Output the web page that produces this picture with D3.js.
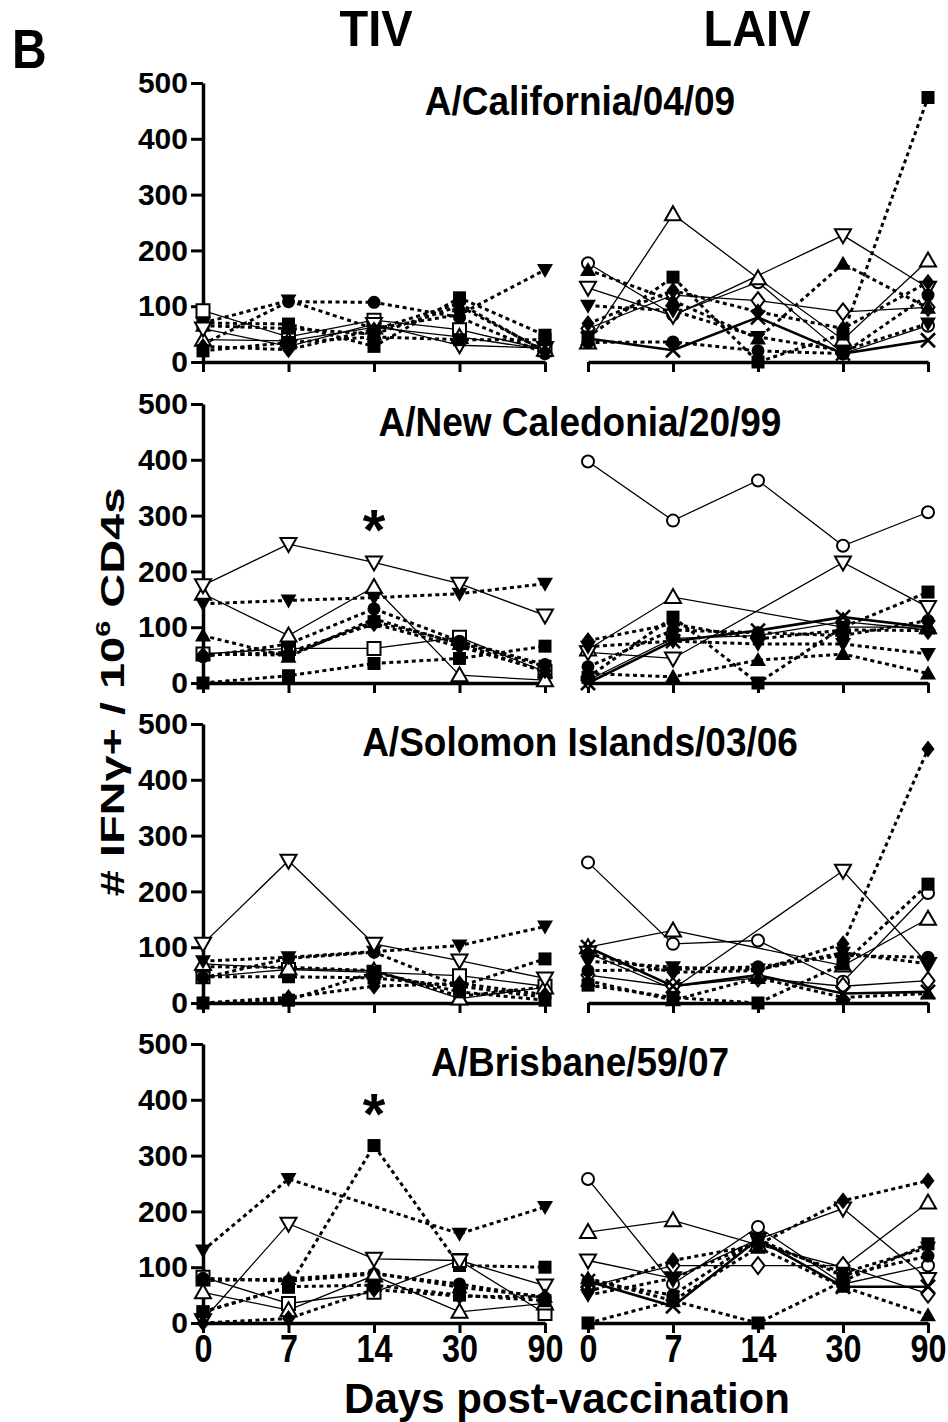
<!DOCTYPE html>
<html><head><meta charset="utf-8">
<script src="https://cdn.jsdelivr.net/npm/d3@7"></script>
<style>
html,body{margin:0;padding:0;background:#fff;}
svg text{font-family:"Liberation Sans",Arial,Helvetica,sans-serif;font-weight:bold;fill:#000;}
</style></head><body>
<svg id="chart" width="948" height="1422"></svg>
<script>
// ---------------- DATA ----------------
const days = ["0","7","14","30","90"];
const groups = ["TIV","LAIV"];
const strains = ["A/California/04/09","A/New Caledonia/20/99","A/Solomon Islands/03/06","A/Brisbane/59/07"];
const yTicks = [0,100,200,300,400,500];
const tivSubjects = ["T1","T2","T3","T4","T5","T6","T7","T8","T9"];
const laivSubjects = ["L1","L2","L3","L4","L5","L6","L7","L8","L9","L10"];

// values per subject (rows follow tivSubjects / laivSubjects order), columns follow days
const tivCalifornia = [
  [70, 68, 28, 115, 48],
  [92, 45, 75, 58, 22],
  [32, 108, 107, 80, 15],
  [65, 60, 50, 100, 20],
  [40, 38, 62, 45, 22],
  [70, 110, 60, 85, 165],
  [60, 28, 68, 30, 25],
  [28, 22, 58, 105, 18],
  [20, 35, 45, 40, 40]
];
const tivNewCaledonia = [
  [52, 50, 110, 72, 30],
  [52, 62, 62, 82, 20],
  [47, 70, 133, 75, 33],
  [85, 47, 115, 70, 20],
  [160, 85, 172, 14, 5],
  [142, 148, 153, 160, 178],
  [175, 249, 216, 178, 121],
  [50, 55, 106, 65, 22],
  [0, 13, 35, 44, 66]
];
const tivSolomon = [
  [47, 47, 45, 30, 79],
  [47, 60, 55, 49, 30],
  [45, 80, 91, 30, 10],
  [65, 64, 58, 12, 29],
  [70, 62, 58, 8, 28],
  [75, 82, 92, 103, 137],
  [106, 255, 106, 76, 44],
  [0, 10, 30, 35, 15],
  [0, 5, 55, 20, 5]
];
const tivBrisbane = [
  [20, 64, 318, 103, 100],
  [82, 35, 55, 112, 17],
  [80, 75, 88, 70, 45],
  [76, 79, 90, 64, 47],
  [55, 23, 85, 20, 35],
  [130, 258, null, 160, 208],
  [5, 178, 115, 112, 67],
  [0, 8, 60, 48, 47],
  [20, 65, 68, 50, 40]
];
const laivCalifornia = [
  [177, 85, 143, 15, 65],
  [35, 265, 150, 40, 182],
  [133, 83, null, 227, 133],
  [60, 120, 110, 90, 98],
  [42, 21, 80, 15, 39],
  [45, 152, 0, 50, 474],
  [35, 36, 20, 15, 120],
  [165, 110, 42, 176, 97],
  [101, 92, 45, 20, 69],
  [69, 128, 90, 60, 143]
];
const laivNewCaledonia = [
  [397, 291, 363, 246, 306],
  [60, 154, null, 100, 100],
  [55, 44, null, 216, 136],
  [5, 80, 85, 110, 95],
  [0, 75, 94, 118, 100],
  [10, 118, 0, 100, 163],
  [29, 95, 90, 85, 112],
  [17, 11, 41, 52, 17],
  [65, 75, 70, 70, 52],
  [76, 106, 79, 95, 94]
];
const laivSolomon = [
  [252, 106, 112, 38, 197],
  [100, 130, null, 67, 151],
  [90, 25, null, 237, 70],
  [50, 30, 45, 30, 40],
  [100, 30, 50, 17, 20],
  [32, 10, 0, 70, 213],
  [58, 60, 65, 85, 82],
  [40, 5, 45, 10, 17],
  [75, 64, 60, 90, 70],
  [88, 55, 58, 106, 455]
];
const laivBrisbane = [
  [258, 70, 172, 70, 103],
  [163, 184, 140, 100, 216],
  [112, 80, 150, 205, 79],
  [65, 103, 103, 103, 52],
  [75, 30, 150, 65, 65],
  [0, 40, 0, 75, 142],
  [75, 50, 150, 85, 120],
  [80, 40, 135, 65, 14],
  [50, 80, 145, 90, 135],
  [55, 112, 140, 219, 255]
];
const significance = [
  {strain:"A/New Caledonia/20/99", group:"TIV", day:"14", level:297},
  {strain:"A/Brisbane/59/07", group:"TIV", day:"14", level:397}
];

// ---------------- STYLE / LAYOUT ----------------
const markerStyle = {
  T1:{shape:"square",open:false,dash:true},
  T2:{shape:"square",open:true,dash:false},
  T3:{shape:"circle",open:false,dash:true},
  T4:{shape:"up",open:false,dash:true},
  T5:{shape:"up",open:true,dash:false},
  T6:{shape:"down",open:false,dash:true},
  T7:{shape:"down",open:true,dash:false},
  T8:{shape:"diamond",open:false,dash:true},
  T9:{shape:"square",open:false,dash:true},
  L1:{shape:"circle",open:true,dash:false},
  L2:{shape:"up",open:true,dash:false},
  L3:{shape:"down",open:true,dash:false},
  L4:{shape:"diamond",open:true,dash:false},
  L5:{shape:"x",open:true,dash:false,thick:true},
  L6:{shape:"square",open:false,dash:true},
  L7:{shape:"circle",open:false,dash:true},
  L8:{shape:"up",open:false,dash:true},
  L9:{shape:"down",open:false,dash:true},
  L10:{shape:"diamond",open:false,dash:true}
};
const panelData = {
  TIV:[tivCalifornia,tivNewCaledonia,tivSolomon,tivBrisbane],
  LAIV:[laivCalifornia,laivNewCaledonia,laivSolomon,laivBrisbane]
};
const subjectsOf = {TIV:tivSubjects, LAIV:laivSubjects};

const rowBase = [362, 683, 1003, 1323];
const rowHeight = 279;
const xRange = {TIV:[203,545], LAIV:[588,928]};

const svg = d3.select("#chart");

function markerPath(shape){
  switch(shape){
    case "square": return "M-6.5,-6.5h13v13h-13z";
    case "up": return "M0,-8L8,6L-8,6Z";
    case "down": return "M0,8L8,-6L-8,-6Z";
    case "diamond": return "M0,-8.5L6.5,0L0,8.5L-6.5,0Z";
    case "x": return "M-7,-7L7,7M-7,7L7,-7";
  }
  return null;
}

strains.forEach((strain, r) => {
  const y = d3.scaleLinear().domain([0,500]).range([rowBase[r], rowBase[r]-rowHeight]);
  groups.forEach(g => {
    const x = d3.scalePoint().domain(days).range(xRange[g]).padding(0);
    const gp = svg.append("g");
    // x axis
    const xa = d3.axisBottom(x).tickSize(10).tickSizeOuter(0).tickPadding(1);
    const xg = gp.append("g").attr("transform",`translate(0,${rowBase[r]})`).call(xa);
    xg.select(".domain").attr("stroke","#000").attr("stroke-width",3.5);
    xg.selectAll(".tick line").attr("stroke","#000").attr("stroke-width",3);
    if (r === strains.length-1) {
      xg.selectAll(".tick text").attr("font-size",39).attr("fill","#000")
        .attr("transform","scale(0.83,1)");
    } else {
      xg.selectAll(".tick text").remove();
    }
    xg.attr("font-family",null).attr("font-size",null);
    // y axis for TIV only
    if (g === "TIV") {
      const ya = d3.axisLeft(y).tickValues(yTicks).tickSize(12).tickSizeOuter(0).tickPadding(3);
      const yg = gp.append("g").attr("transform",`translate(${xRange.TIV[0]},0)`).call(ya);
      yg.select(".domain").attr("stroke","#000").attr("stroke-width",3.5);
      yg.selectAll(".tick line").attr("stroke","#000").attr("stroke-width",3);
      yg.selectAll(".tick text").attr("font-size",30).attr("fill","#000");
      yg.attr("font-family",null).attr("font-size",null);
    }
    // series
    const data = panelData[g][r];
    const subs = subjectsOf[g];
    const line = d3.line().x(d=>x(d.day)).y(d=>y(d.v));
    const series = subs.map((s,i)=>({id:s, st:markerStyle[s],
      pts: days.map((d,j)=>({day:d, v:data[i][j]})).filter(p=>p.v!==null)}));
    gp.selectAll("path.ln").data(series).enter().append("path")
      .attr("class","ln")
      .attr("d", d=>line(d.pts))
      .attr("fill","none").attr("stroke","#000")
      .attr("stroke-width", d=> d.st.dash ? 3 : (d.st.thick ? 2.6 : 1.3))
      .attr("stroke-dasharray", d=> d.st.dash ? "4,3.5" : null);
    series.forEach(s => {
      s.pts.forEach(p => {
        const cx = x(p.day), cy = y(p.v);
        if (s.st.shape === "circle") {
          gp.append("circle").attr("cx",cx).attr("cy",cy).attr("r", s.st.open?6:6.5)
            .attr("fill", s.st.open?"#fff":"#000").attr("stroke","#000").attr("stroke-width", s.st.open?2:0);
        } else if (s.st.shape === "x") {
          gp.append("path").attr("transform",`translate(${cx},${cy})`).attr("d",markerPath("x"))
            .attr("fill","none").attr("stroke","#000").attr("stroke-width",2.6);
        } else {
          gp.append("path").attr("transform",`translate(${cx},${cy})`).attr("d",markerPath(s.st.shape))
            .attr("fill", s.st.open?"#fff":"#000").attr("stroke","#000").attr("stroke-width", s.st.open?2:0);
        }
      });
    });
    // significance markers
    significance.filter(sg=>sg.strain===strain && sg.group===g).forEach(sg=>{
      gp.append("text").attr("x", x(sg.day)).attr("y", y(sg.level)+33)
        .attr("text-anchor","middle").attr("font-size",58).attr("font-weight","normal").text("*");
    });
  });
  // panel title
  svg.append("text").attr("transform",`translate(580,${rowBase[r]-rowHeight+32}) scale(1,1.12)`)
    .attr("text-anchor","middle").attr("font-size",37).text(strain);
});

// headers
svg.append("text").attr("transform","translate(376,46) scale(1,1.05)").attr("text-anchor","middle").attr("font-size",47).text(groups[0]);
svg.append("text").attr("transform","translate(757,46) scale(1,1.05)").attr("text-anchor","middle").attr("font-size",47).text(groups[1]);
svg.append("text").attr("transform","translate(12,68) scale(1,1.15)").attr("font-size",48).text("B");

// axis titles
svg.append("text").attr("x",567).attr("y",1413).attr("text-anchor","middle").attr("font-size",42).text("Days post-vaccination");
const yl = svg.append("text").attr("transform","translate(124,692) rotate(-90) scale(1.38,1)")
  .attr("text-anchor","middle").attr("font-size",34);
yl.append("tspan").text("# IFNγ+ / 10");
yl.append("tspan").attr("font-size",21).attr("dy",-14).text("6");
yl.append("tspan").attr("dy",14).text(" CD4s");
</script>
</body></html>
